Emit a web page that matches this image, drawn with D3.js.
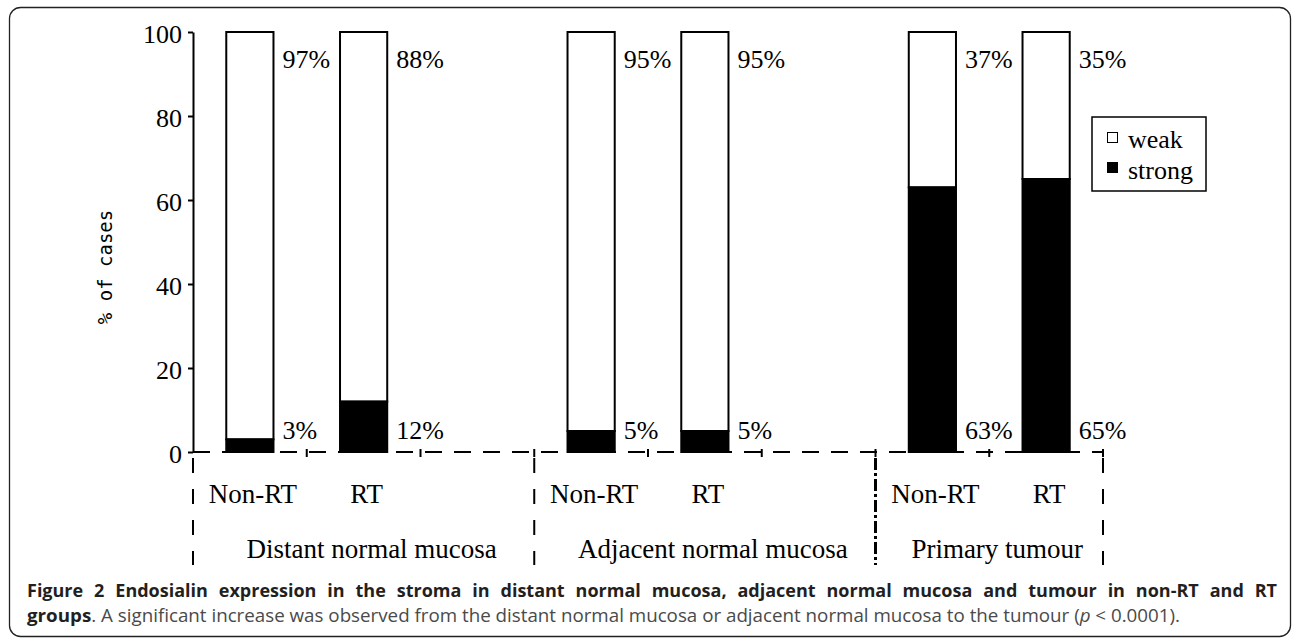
<!DOCTYPE html>
<html>
<head>
<meta charset="utf-8">
<script src="https://cdn.jsdelivr.net/npm/d3@7/dist/d3.min.js"></script>
<style>
  html, body { margin: 0; padding: 0; background: #fff; }
  svg { display: block; }
</style>
</head>
<body>
<svg id="chart" width="1292" height="638"></svg>
<script>
// ---- data ----
const groups = ["Distant normal mucosa", "Adjacent normal mucosa", "Primary tumour"];
const treatments = ["Non-RT", "RT"];
const strongValues = [3, 12, 5, 5, 63, 65];
const weakValues = [97, 88, 95, 95, 37, 35];
const strongLabels = ["3%", "12%", "5%", "5%", "63%", "65%"];
const weakLabels = ["97%", "88%", "95%", "95%", "37%", "35%"];
const yTicks = [0, 20, 40, 60, 80, 100];
const legendItems = ["weak", "strong"];
const yTitle = "% of cases";

(function () {
const svg = d3.select("#chart");
const serif = "'Liberation Serif', 'Times New Roman', serif";

// frame
svg.append("rect").attr("x", 9.5).attr("y", 7.5).attr("width", 1281).attr("height", 629)
  .attr("rx", 11).attr("fill", "none").attr("stroke", "#222").attr("stroke-width", 1.3);

const pLeft = 193, pRight = 1103, pTop = 32, pBottom = 452;
// 3 slots per group (Non-RT, RT, gap), last gap dropped -> 8 slots
const nSlots = groups.length * 3 - 1;
const x = d3.scaleBand().domain(d3.range(nSlots)).range([pLeft, pRight])
  .paddingInner(0.585).paddingOuter(0.2925);
const y = d3.scaleLinear().domain([0, 100]).range([pBottom, pTop]);

const bars = [];
groups.forEach((g, gi) => treatments.forEach((t, ti) => {
  const i = gi * 2 + ti;
  bars.push({ slot: gi * 3 + ti, t, strong: strongValues[i], weak: weakValues[i],
              sl: strongLabels[i], wl: weakLabels[i] });
}));

// y axis
const yAxis = d3.axisLeft(y).tickValues(yTicks).tickSize(5).tickSizeOuter(0).tickPadding(6);
const ya = svg.append("g").attr("transform", `translate(${pLeft},0)`).call(yAxis);
ya.select(".domain").attr("stroke", "#000").attr("stroke-width", 2);
ya.selectAll(".tick line").attr("stroke", "#000").attr("stroke-width", 2);
ya.selectAll(".tick text").attr("font-family", serif).attr("font-size", 26).attr("fill", "#000")
  .attr("dy", "0.42em");

// y title
svg.append("text").attr("transform", `translate(112,267) rotate(-90)`)
  .attr("text-anchor", "middle").attr("font-family", "'DejaVu Sans Mono', monospace")
  .attr("font-size", 19).attr("fill", "#000").text(yTitle);

// x axis dashed
svg.append("line").attr("x1", pLeft).attr("x2", pRight).attr("y1", pBottom).attr("y2", pBottom)
  .attr("stroke", "#000").attr("stroke-width", 2).attr("stroke-dasharray", "17,12");

// slot boundary ticks
const step = x.step();
const slotStart = x(0) - x.paddingOuter() * step; // = pLeft
const bounds = d3.range(1, nSlots + 1).map(k => slotStart + k * step);
svg.selectAll(".xtick").data(bounds).join("line")
  .attr("x1", d => d).attr("x2", d => d).attr("y1", pBottom - 3).attr("y2", pBottom + 5)
  .attr("stroke", "#000").attr("stroke-width", 2);

// vertical separators
const sepX = [slotStart, slotStart + 3 * step, slotStart + 6 * step, pRight];
svg.selectAll(".sep").data(sepX).join("line")
  .attr("x1", d => d).attr("x2", d => d).attr("y1", pBottom + 6).attr("y2", 565)
  .attr("stroke", "#000")
  .attr("stroke-width", (d, i) => i === 2 ? 3 : 2)
  .attr("stroke-dasharray", (d, i) => i === 2 ? "12,3,3,3" : "15,16");

// bars
const bw = x.bandwidth();
const bg = svg.append("g");
bars.forEach(b => {
  const bx = x(b.slot);
  bg.append("rect").attr("x", bx).attr("y", y(100)).attr("width", bw)
    .attr("height", y(b.strong) - y(100)).attr("fill", "#fff").attr("stroke", "#000").attr("stroke-width", 2);
  bg.append("rect").attr("x", bx).attr("y", y(b.strong)).attr("width", bw)
    .attr("height", y(0) - y(b.strong)).attr("fill", "#000").attr("stroke", "#000").attr("stroke-width", 2);
  bg.append("text").attr("x", bx + bw + 9).attr("y", y(100) + 36)
    .attr("font-family", serif).attr("font-size", 26).text(b.wl);
  bg.append("text").attr("x", bx + bw + 9).attr("y", y(0) - 13)
    .attr("font-family", serif).attr("font-size", 26).text(b.sl);
  bg.append("text").attr("x", bx + bw / 2 + 3).attr("y", 503).attr("text-anchor", "middle")
    .attr("font-family", serif).attr("font-size", 27).text(b.t);
});

// group labels
groups.forEach((g, gi) => {
  svg.append("text").attr("x", (sepX[gi] + sepX[gi + 1]) / 2 + 8).attr("y", 558)
    .attr("text-anchor", "middle").attr("font-family", serif).attr("font-size", 27).text(g);
});

// legend
const lg = svg.append("g");
lg.append("rect").attr("x", 1092).attr("y", 117).attr("width", 114).attr("height", 74)
  .attr("fill", "#fff").attr("stroke", "#000").attr("stroke-width", 1.5);
legendItems.forEach((d, i) => {
  lg.append("rect").attr("x", 1107.5).attr("y", 132.5 + i * 30).attr("width", 10).attr("height", 10)
    .attr("fill", i === 0 ? "#fff" : "#000").attr("stroke", "#000").attr("stroke-width", 1);
  lg.append("text").attr("x", 1128).attr("y", 148 + i * 31).attr("font-family", serif)
    .attr("font-size", 26).text(d);
});

// caption
const cap = "'Open Sans', sans-serif";
const capX = 27;
const line1 = svg.append("text").attr("x", capX).attr("y", 597).attr("font-family", cap).attr("font-size", 18)
  .attr("font-weight", "bold").attr("fill", "#231f20")
  .text("Figure 2 Endosialin expression in the stroma in distant normal mucosa, adjacent normal mucosa and tumour in non-RT and RT");
const target1 = 1277 - capX;
const w1 = line1.node().getComputedTextLength();
if (w1 < target1) {
  const nSp = (line1.text().match(/ /g) || []).length;
  line1.attr("word-spacing", (target1 - w1) / nSp);
} else {
  line1.attr("textLength", target1).attr("lengthAdjust", "spacingAndGlyphs");
}
const l2 = svg.append("text").attr("x", capX).attr("y", 622).attr("font-family", cap)
  .attr("font-size", 18).attr("fill", "#4a4a4a");
l2.append("tspan").attr("font-weight", "bold").attr("fill", "#231f20").text("groups");
l2.append("tspan").text(". A significant increase was observed from the distant normal mucosa or adjacent normal mucosa to the tumour (");
l2.append("tspan").attr("font-style", "italic").text("p");
l2.append("tspan").text(" < 0.0001).");
l2.attr("textLength", 1180 - capX).attr("lengthAdjust", "spacingAndGlyphs");
})();
</script>
</body>
</html>
